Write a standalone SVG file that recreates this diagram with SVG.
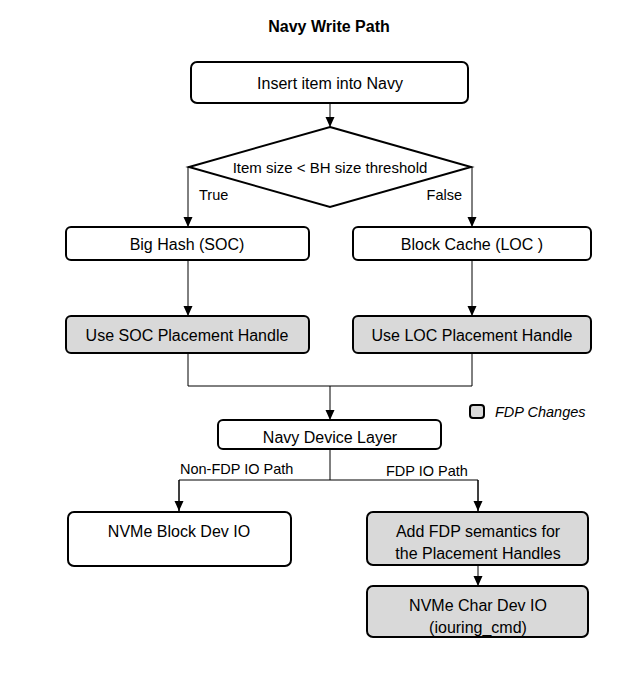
<svg xmlns="http://www.w3.org/2000/svg" width="643" height="676" viewBox="0 0 643 676">
<style>
text{font-family:"Liberation Sans",Arial,sans-serif;fill:#000}
.t{font-size:16px;text-anchor:middle;dominant-baseline:central}
.d{font-size:15px;text-anchor:middle;dominant-baseline:central}
.l{font-size:14.5px;dominant-baseline:central}
.title{font-size:16px;font-weight:bold;text-anchor:middle;dominant-baseline:central}
.box{fill:#fff;stroke:#000;stroke-width:2}
.fdp{fill:#d9d9d9;stroke:#000;stroke-width:2}
.c{fill:none;stroke:#000;stroke-width:1}
</style>
<defs>
<marker id="ah" markerUnits="userSpaceOnUse" markerWidth="10" markerHeight="10" viewBox="0 0 10 10" refX="10" refY="5" orient="auto">
<path d="M0,0.5 L10,5 L0,9.5 Z" fill="#000"/>
</marker>
</defs>
<rect width="643" height="676" fill="#fff"/>
<text class="title" x="329" y="26">Navy Write Path</text>

<g id="connectors">
<line class="c" x1="330" y1="103" x2="330" y2="127" marker-end="url(#ah)"/>
<polyline class="c" points="189,167 188,167 188,227" marker-end="url(#ah)"/>
<polyline class="c" points="471,167 472,167 472,227" marker-end="url(#ah)"/>
<line class="c" x1="188" y1="260" x2="188" y2="316" marker-end="url(#ah)"/>
<line class="c" x1="472" y1="260" x2="472" y2="316" marker-end="url(#ah)"/>
<polyline class="c" points="188,353 188,386 472,386 472,353"/>
<line class="c" x1="330" y1="386" x2="330" y2="420" marker-end="url(#ah)"/>
<line class="c" x1="330" y1="449" x2="330" y2="480"/>
<polyline class="c" points="179,511 179,480 478,480 478,511"/>
<line class="c" x1="179" y1="480" x2="179" y2="511" marker-end="url(#ah)"/>
<line class="c" x1="478" y1="480" x2="478" y2="511" marker-end="url(#ah)"/>
<line class="c" x1="478" y1="566" x2="478" y2="586" marker-end="url(#ah)"/>
<text class="l" x="199" y="195">True</text>
<text class="l" x="462" y="195" text-anchor="end">False</text>
<text class="l" x="180" y="469">Non-FDP IO Path</text>
<text class="l" x="386" y="471">FDP IO Path</text>
</g>

<g id="insert">
<rect class="box" x="191" y="62" width="277" height="41" rx="6"/>
<text class="t" x="330" y="83">Insert item into Navy</text>
</g>
<g id="decision">
<polygon class="box" points="330,127 471,167 330,207 189,167"/>
<text class="d" x="330" y="167">Item size &lt; BH size threshold</text>
</g>
<g id="bighash">
<rect class="box" x="66" y="227" width="243" height="33" rx="5"/>
<text class="t" x="187" y="244">Big Hash (SOC)</text>
</g>
<g id="blockcache">
<rect class="box" x="353" y="227" width="238" height="33" rx="5"/>
<text class="t" x="472" y="244">Block Cache (LOC )</text>
</g>
<g id="soc-handle">
<rect class="fdp" x="66" y="316" width="243" height="37" rx="5"/>
<text class="t" x="187" y="335">Use SOC Placement Handle</text>
</g>
<g id="loc-handle">
<rect class="fdp" x="353" y="316" width="238" height="37" rx="5"/>
<text class="t" x="472" y="335">Use LOC Placement Handle</text>
</g>
<g id="legend">
<rect class="fdp" x="470" y="405" width="14" height="13" rx="3"/>
<text class="l" x="495" y="412" font-style="italic">FDP Changes</text>
</g>
<g id="device-layer">
<rect class="box" x="218" y="420" width="223" height="29" rx="5"/>
<text class="t" x="330" y="437">Navy Device Layer</text>
</g>
<g id="block-dev">
<rect class="box" x="68" y="512" width="223" height="54" rx="6"/>
<text class="t" x="179" y="531">NVMe Block Dev IO</text>
</g>
<g id="fdp-semantics">
<rect class="fdp" x="367" y="512" width="221" height="53" rx="6"/>
<text class="t" x="478" y="531">Add FDP semantics for</text>
<text class="t" x="478" y="553">the Placement Handles</text>
</g>
<g id="char-dev">
<rect class="fdp" x="367" y="586" width="221" height="51" rx="6"/>
<text class="t" x="478" y="605">NVMe Char Dev IO</text>
<text class="t" x="478" y="627">(iouring_cmd)</text>
</g>
</svg>
